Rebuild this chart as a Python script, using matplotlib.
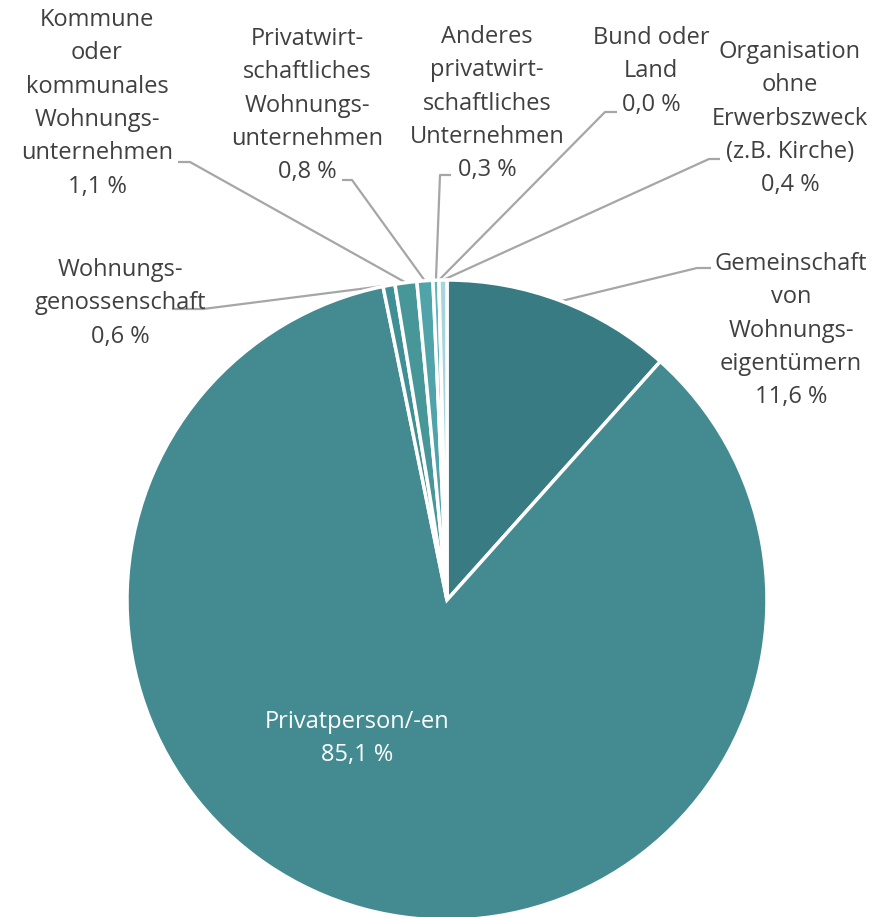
import matplotlib
matplotlib.use("Agg")
import matplotlib.pyplot as plt
import numpy as np

W, H = 885, 917

labels = ["Gemeinschaft\nvon\nWohnungs-\neigentümern",
          "Privatperson/-en",
          "Wohnungs-\ngenossenschaft",
          "Kommune\noder\nkommunales\nWohnungs-\nunternehmen",
          "Privatwirt-\nschaftliches\nWohnungs-\nunternehmen",
          "Anderes\nprivatwirt-\nschaftliches\nUnternehmen",
          "Bund oder\nLand",
          "Organisation\nohne\nErwerbszweck\n(z.B. Kirche)"]
values = [11.6, 85.1, 0.6, 1.1, 0.8, 0.3, 0.0, 0.4]
colors = ["#387b82", "#448b91", "#3f8f94", "#479799", "#50a4a9", "#5cb6bd", "#7fc6cc", "#a8d5d9"]

# layout (pixel coordinates, y from top; text y = centre of first line)
cx, cy, R = 447, 600, 320
text_pos = [(791, 262), (357, 720), (120, 268), (97, 18), (307, 37), (487, 35), (651, 36), (790, 50)]
elbow = [(697, 268), None, (203, 309), (190, 162), (352, 180), (440, 175), (605, 112), (709, 159)]
tail = [(711, 268), None, (172, 309), (178, 162), (342, 180), (451, 175), (617, 112), (720, 159)]

fig = plt.figure(figsize=(W / 100, H / 100), dpi=100)
ax = fig.add_axes([0, 0, 1, 1])

def Y(y):
    return H - y

ax.pie(values, colors=colors, startangle=90, counterclock=False, radius=R,
       center=(cx, Y(cy)), wedgeprops=dict(edgecolor="white", linewidth=2.5), frame=True)
ax.set_xlim(0, W)
ax.set_ylim(0, H)
ax.set_aspect("equal")
ax.axis("off")

font = "Open Sans"
tcol = "#404040"
total = sum(values)
cum = 0.0
for i, v in enumerate(values):
    frac = v / total
    mid = np.deg2rad(90 - 360 * (cum + frac / 2))
    cum += frac
    pct = f"{v:.1f} %".replace(".", ",")
    x, y = text_pos[i]
    col = "white" if i == 1 else tcol
    ax.text(x, Y(y - 10), labels[i] + "\n" + pct, ha="center", va="top", fontsize=17,
            family=font, color=col, linespacing=1.52)
    if elbow[i] is not None:
        ex, ey = cx + R * np.cos(mid), Y(cy) + R * np.sin(mid)
        bx, by = elbow[i]
        tx, ty = tail[i]
        ax.plot([ex, bx, tx], [ey, Y(by), Y(ty)], color="#a6a6a6", lw=1.6,
                solid_capstyle="butt", zorder=0.5)

fig.savefig("out.png", dpi=100)
